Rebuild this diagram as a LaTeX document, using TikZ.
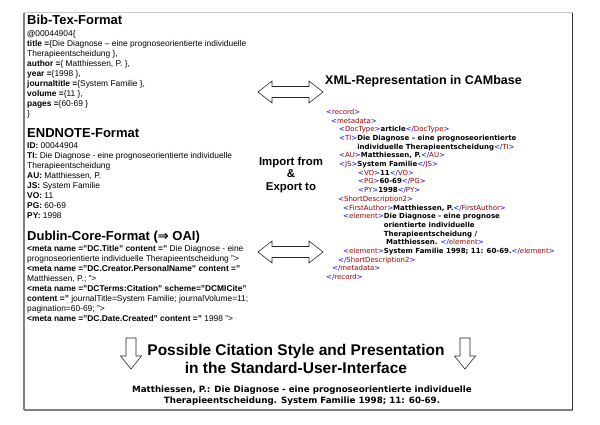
\documentclass[tikz,border=0pt]{standalone}
\usepackage{fontspec}
\setmainfont{Liberation Sans}
\newfontfamily\vfont{DejaVu Sans}
\definecolor{tagblue}{RGB}{0,0,255}
\definecolor{tagred}{RGB}{153,0,0}
\definecolor{frameA}{RGB}{200,200,200}
\definecolor{frameB}{RGB}{128,128,128}
\definecolor{frameC}{RGB}{50,50,50}
\newcommand\xtg[1]{{\mdseries\color{tagblue}<}{\mdseries\color{tagred}#1}{\mdseries\color{tagblue}>}}
\newcommand\xetg[1]{{\mdseries\color{tagblue}</}{\mdseries\color{tagred}#1}{\mdseries\color{tagblue}>}}
\newcommand\xb[1]{\textbf{#1}}
\begin{document}
\begin{tikzpicture}[x=1pt,y=-1pt,
  head/.style={anchor=base west, inner sep=0, font=\fontsize{13}{15}\selectfont\bfseries},
  body/.style={anchor=north west, inner sep=0, align=left, font=\fontsize{8.4}{10}\selectfont},
  xml/.style={anchor=base west, inner sep=0, font=\vfont\fontsize{7}{8}\selectfont},
  blockarrow/.style={draw=black!85, fill=white, line width=0.6pt, line join=miter}]
\useasboundingbox (0,0) rectangle (600,424);
\fill[white] (0,0) rectangle (600,424);
% frame
\draw[frameA, line width=1.5pt] (24,12.5) -- (572.5,12.5);
\draw[frameB, line width=1.5pt] (24,12.5) -- (24,410);
\draw[frameB, line width=1.5pt] (24,410) -- (572.5,410);
\draw[frameC, line width=1.5pt] (572.5,12.5) -- (572.5,410);

% left column
\node[head] (hbib) at (27,24.5) {Bib-Tex-Format};
\node[body] (bbib) at (27,29.2) {\rule{0pt}{7.5pt}\xb{@}00044904\{\\
\xb{title =}\{Die Diagnose – eine prognoseorientierte individuelle\\
Therapieentscheidung \},\\
\xb{author =}\{ Matthiessen, P. \},\\
\xb{year =}\{1998 \},\\
\xb{journaltitle =}\{System Familie \},\\
\xb{volume =}\{11 \},\\
\xb{pages =}\{60-69 \}\\
\}};

\node[head] (hend) at (27,137.5) {ENDNOTE-Format};
\node[body] (bend) at (27,141.2) {\rule{0pt}{7.5pt}\xb{ID:} 00044904\\
\xb{TI:} Die Diagnose - eine prognoseorientierte individuelle\\
Therapieentscheidung\\
\xb{AU:} Matthiessen, P.\\
\xb{JS:} System Familie\\
\xb{VO:} 11\\
\xb{PG:} 60-69\\
\xb{PY:} 1998};

\node[head] (hdc) at (27,240.5) {Dublin-Core-Format ({\vfont ⇒} OAI)};
\node[body] (bdc) at (27,244.2) {\rule{0pt}{7.5pt}\xb{<meta name ="DC.Title" content ="} Die Diagnose - eine\\
prognoseorientierte individuelle Therapieentscheidung ">\\
\xb{<meta name ="DC.Creator.PersonalName" content ="}\\
Matthiessen, P.; ">\\
\xb{<meta name ="DCTerms:Citation" scheme="DCMICite"}\\
\xb{content ="} journalTitle=System Familie; journalVolume=11;\\
pagination=60-69; ">\\
\xb{<meta name ="DC.Date.Created" content ="} 1998 ">};

% double arrows
\draw[blockarrow] (258,92) -- (272,81) -- (272,86.5) -- (309,86.5) -- (309,81) -- (323,92)
  -- (309,103) -- (309,97.5) -- (272,97.5) -- (272,103) -- cycle;
\draw[blockarrow] (258,252) -- (272,241) -- (272,246.5) -- (309,246.5) -- (309,241) -- (323,252)
  -- (309,263) -- (309,257.5) -- (272,257.5) -- (272,263) -- cycle;

\node[align=center, inner sep=0, font=\fontsize{11.4}{12.5}\selectfont\bfseries] (imp) at (291,175) {Import from\\ \&\\ Export to};

% XML
\node[font=\fontsize{12.5}{15}\selectfont\bfseries, anchor=base west, inner sep=0] (hxml) at (325,84.5) {XML-Representation in CAMbase};
\node[xml] (x1) at (326,114.3) {\xtg{record}};
\node[xml] (x2) at (331,123.0) {\xtg{metadata}};
\node[xml] (x3) at (339,131.7) {\xtg{DocType}\xb{article}\xetg{DocType}};
\node[xml] (x4) at (339,140.4) {\xtg{TI}\xb{Die Diagnose – eine prognoseorientierte}};
\node[xml] (x5) at (339,149.1) {\phantom{\xtg{TI}}\xb{individuelle Therapieentscheidung}\xetg{TI}};
\node[xml] (x6) at (339,157.8) {\xtg{AU}\xb{Matthiessen, P.}\xetg{AU}};
\node[xml] (x7) at (339,166.5) {\xtg{JS}\xb{System Familie}\xetg{JS}};
\node[xml] (x8) at (358,175.2) {\xtg{VO}\xb{11}\xetg{VO}};
\node[xml] (x9) at (358,183.9) {\xtg{PG}\xb{60-69}\xetg{PG}};
\node[xml] (x10) at (358,192.6) {\xtg{PY}\xb{1998}\xetg{PY}};
\node[xml] (x11) at (338,201.3) {\xtg{ShortDescription2}};
\node[xml] (x12) at (343,210.0) {\xtg{FirstAuthor}\xb{Matthiessen, P.}\xetg{FirstAuthor}};
\node[xml] (x13) at (343,218.7) {\xtg{element}\xb{Die Diagnose - eine prognose}};
\node[xml] (x14) at (343,227.4) {\phantom{\xtg{element}}\xb{orientierte individuelle}};
\node[xml] (x15) at (343,236.1) {\phantom{\xtg{element}}\xb{Therapieentscheidung /}};
\node[xml] (x16) at (343,244.8) {\phantom{\xtg{element}}\xb{\ Matthiessen. }\xetg{element}};
\node[xml] (x17) at (343,253.5) {\xtg{element}\xb{System Familie 1998; 11: 60-69.}\xetg{element}};
\node[xml] (x18) at (338,262.2) {\xetg{ShortDescription2}};
\node[xml] (x19) at (332,270.9) {\xetg{metadata}};
\node[xml] (x20) at (326,279.6) {\xetg{record}};

% down arrows
\draw[blockarrow] (126,338) -- (136,338) -- (136,356) -- (141.5,356) -- (131,369)
  -- (120.5,356) -- (126,356) -- cycle;
\draw[blockarrow] (460,338) -- (470,338) -- (470,356) -- (475.5,356) -- (465,369)
  -- (454.5,356) -- (460,356) -- cycle;

\node[align=center, inner sep=0, font=\fontsize{15.5}{18}\selectfont\bfseries] (ptitle) at (296,359) {Possible Citation Style and Presentation\\ in the Standard-User-Interface};

\node[align=center, inner sep=0, font=\vfont\bfseries\fontsize{8.7}{11}\selectfont] (cit) at (302,395.5) {Matthiessen, P.: Die Diagnose - eine prognoseorientierte individuelle\\ Therapieentscheidung. System Familie 1998; 11: 60-69.};
\end{tikzpicture}
\end{document}
